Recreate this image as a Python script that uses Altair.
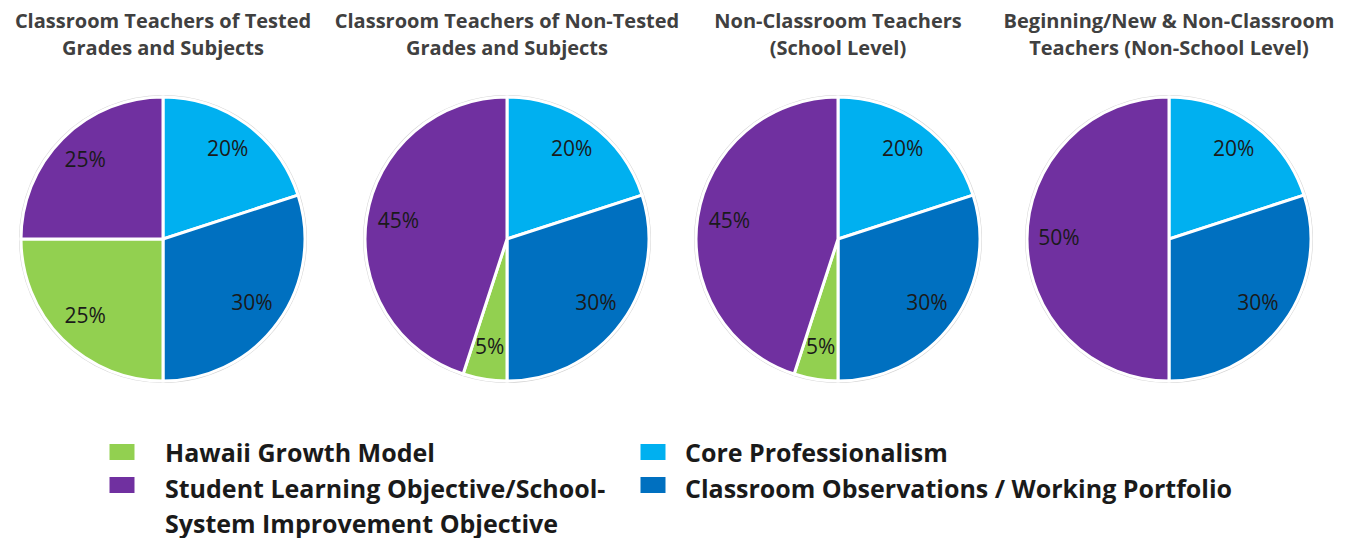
import altair as alt
import pandas as pd

titles = [
    ["Classroom Teachers of Tested", "Grades and Subjects"],
    ["Classroom Teachers of Non-Tested", "Grades and Subjects"],
    ["Non-Classroom Teachers", "(School Level)"],
    ["Beginning/New & Non-Classroom", "Teachers (Non-School Level)"],
]
components = [
    "Core Professionalism",
    "Classroom Observations / Working Portfolio",
    "Hawaii Growth Model",
    "Student Learning Objective/School-System Improvement Objective",
]
colors = ["#00b0f0", "#0070c0", "#92d050", "#7030a0"]
core = [20, 20, 20, 20]
observations = [30, 30, 30, 30]
growth = [25, 5, 5, 0]
slo = [25, 45, 45, 50]

legend_components = [
    "Hawaii Growth Model",
    "Student Learning Objective/School-System Improvement Objective",
    "Core Professionalism",
    "Classroom Observations / Working Portfolio",
]
legend_lines = [
    ["Hawaii Growth Model"],
    ["Student Learning Objective/School-", "System Improvement Objective"],
    ["Core Professionalism"],
    ["Classroom Observations / Working Portfolio"],
]
legend_col = [0, 0, 1, 1]
legend_row = [0, 1, 0, 1]

FONT = "Open Sans"
R = 142
color_scale = alt.Scale(domain=components, range=colors)

panels = []
for i, t in enumerate(titles):
    vals = [core[i], observations[i], growth[i], slo[i]]
    df = pd.DataFrame({
        "component": components,
        "value": vals,
        "ord": list(range(4)),
    })
    df = df[df["value"] > 0]
    df["label"] = df["value"].astype(str) + "%"
    base = alt.Chart(df).encode(
        theta=alt.Theta("value:Q", stack=True),
        order=alt.Order("ord:Q"),
    )
    shadow = base.mark_arc(radius=R + 2, fill="#d4d4d4")
    arcs = base.mark_arc(radius=R, stroke="white", strokeWidth=3).encode(
        color=alt.Color("component:N", scale=color_scale, legend=None)
    )
    text = base.mark_text(radius=110, font=FONT, fontSize=21, color="#1a1a1a").encode(
        text="label:N"
    )
    panel = alt.layer(shadow, arcs, text).properties(
        width=300,
        height=290,
        title=alt.TitleParams(
            t, font=FONT, fontSize=20, fontWeight="bold", color="#404040",
            anchor="middle", offset=32, lineHeight=27,
        ),
    )
    panels.append(panel)

inner = alt.hconcat(*panels[1:], spacing=31, bounds="flush")
pies = alt.hconcat(panels[0], inner, spacing=44, bounds="flush")

leg_df = pd.DataFrame({
    "component": legend_components,
    "lines": legend_lines,
    "col": legend_col,
    "row": legend_row,
})
rect_shape = "M-1,-0.64L1,-0.64L1,0.64L-1,0.64Z"
sym = alt.Chart(leg_df).mark_point(
    shape=rect_shape, filled=True, size=625, opacity=1, strokeWidth=0
).encode(
    x=alt.X("col:O", scale=alt.Scale(type="point", range=[109, 640], padding=0), axis=None),
    y=alt.Y("row:O", scale=alt.Scale(type="point", range=[46, 79], padding=0), axis=None),
    color=alt.Color("component:N", scale=color_scale, legend=None),
)
lab = alt.Chart(leg_df).mark_text(
    align="left", baseline="alphabetic", font=FONT, fontSize=25,
    fontWeight="bold", color="#1a1a1a", lineHeight=35,
).encode(
    x=alt.X("col:O", scale=alt.Scale(type="point", range=[152, 672], padding=0), axis=None),
    y=alt.Y("row:O", scale=alt.Scale(type="point", range=[56, 92], padding=0), axis=None),
    text="lines:N",
)
legend = alt.layer(sym, lab).resolve_scale(x="independent", y="independent").properties(
    width=1320, height=126
)

chart = alt.vconcat(pies, legend, spacing=19).configure_view(
    stroke=None
).properties(
    background="white",
    padding={"top": 4, "left": 5, "right": 5, "bottom": 0},
)
chart.save("out.html", embed_options={"renderer": "svg", "actions": False})
